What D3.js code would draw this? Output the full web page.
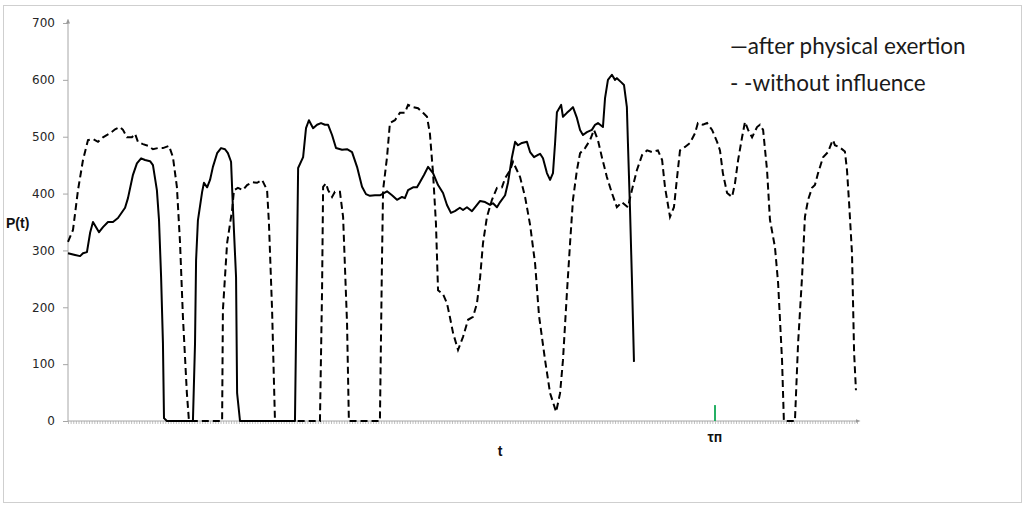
<!DOCTYPE html>
<html>
<head>
<meta charset="utf-8">
<script src="https://cdn.jsdelivr.net/npm/d3@7"></script>
<style>
  body { margin: 0; background: #fff; }
  svg { display: block; }
</style>
</head>
<body>
<div id="chart"></div>
<script>
// y ticks and time range
var yTicks = [0, 100, 200, 300, 400, 500, 600, 700];
var tCount = 300;
var tMark = 246;   // the green "τп" mark on the time axis

// [t, P(t)] after physical exertion
var exertion = [
  [0,295],[2.7,292],[4.6,290],[5.7,295],[7.2,297],[8.4,331],[9.5,350],[11.8,332],[13.3,341],
  [15.2,350],[17.1,350],[19,357],[21.7,375],[22.8,392],[24.7,433],[26.2,453],[27.8,462],
  [29.3,459],[31.2,457],[32.3,450],[33.8,406],[34.6,354],[35.4,253],[36.1,137],[36.5,5],[37.6,0],
  [47.5,0],[48.3,137],[48.7,283],[49.4,353],[51,403],[51.7,419],[52.9,411],[54,424],[55.1,447],
  [56.7,471],[58.2,480],[59.7,478],[60.8,471],[62,456],[62.7,376],[63.9,253],[64.3,49],[65.4,0],
  [86.3,0],[87.5,445],[89.4,464],[90.5,515],[91.6,529],[93.2,515],[94.7,521],[96.2,524],
  [97.7,521],[98.9,521],[100.4,503],[101.9,480],[104.2,477],[106.1,478],[108,473],[109.9,447],
  [111.8,412],[113.3,399],[114.8,396],[116.7,397],[118.6,397],[121.3,404],[123.2,397],[125.1,389],
  [127,394],[128.1,392],[129.3,406],[131.2,411],[132.7,411],[133.8,420],[135.4,433],[136.9,447],
  [138.8,436],[140.7,415],[142.6,401],[144.1,380],[145.6,366],[147.1,369],[149,375],[150.2,371],
  [151.7,376],[153.6,369],[155.5,380],[156.7,387],[158.6,385],[160.5,380],[161.6,383],[163.1,376],
  [164.3,385],[166.2,397],[167.3,419],[168.8,464],[170,491],[171.1,485],[172.6,489],[174.5,491],
  [175.7,473],[177.2,464],[178.7,468],[179.5,470],[180.6,462],[182.1,436],[183.3,424],[184.4,436],
  [185.2,489],[185.9,543],[187.5,556],[188.2,535],[189.7,542],[190.9,547],[192,552],[193.5,533],
  [194.7,512],[195.8,503],[197.3,508],[199.2,512],[200.4,521],[201.5,524],[203.4,517],[204.2,568],
  [205.3,600],[206.8,609],[208,600],[208.7,603],[210.3,596],[211.4,591],[212.5,552],[212.9,489],
  [213.7,371],[214.4,253],[215.2,104]
];

// [t, P(t)] without influence
var noInfluence = [
  [0,315],[1.9,336],[3.8,406],[5.7,459],[7.6,494],[9.5,496],[11.4,491],[13.3,499],[16,506],
  [17.9,513],[19.8,517],[20.9,512],[22.4,499],[24.3,499],[25.5,505],[26.6,491],[28.5,487],
  [30.4,484],[32.3,478],[34.2,480],[36.1,480],[38.4,484],[39.9,464],[41.4,412],[42.6,313],
  [43.7,183],[45.2,49],[46,0],[58.6,0],[58.9,195],[60.5,313],[62.4,371],[63.1,406],[64.6,410],
  [66.5,406],[68.1,415],[70,420],[71.9,419],[73.8,424],[75.7,406],[76.4,348],[77.6,195],[78.7,0],
  [95.8,0],[96.6,230],[97,412],[98.1,418],[98.9,406],[100.4,394],[101.5,403],[103.4,403],
  [104.6,359],[106.1,172],[106.8,0],[118.6,0],[119.4,288],[119.8,406],[121.3,464],[122.4,524],
  [124.3,529],[126.2,542],[128.1,542],[129.3,556],[131.2,552],[133.1,550],[135,542],[136.5,535],
  [137.6,506],[138.8,436],[139.9,348],[140.7,230],[142.6,223],[144.1,207],[145.2,183],[146.4,155],
  [148.3,125],[150.2,148],[152.1,178],[154,183],[155.5,207],[156.7,253],[157.8,313],[159.3,359],
  [161.2,389],[163.1,410],[165,411],[166.2,427],[168.1,441],[169.2,456],[170.7,441],[171.9,429],
  [173.8,394],[175.7,345],[177.6,277],[179.1,185],[181.4,107],[183.3,49],[185.6,16],[187.1,49],
  [188.2,107],[189.7,225],[190.9,313],[192,389],[193.5,441],[194.7,471],[196.6,480],[198.5,494],
  [200,512],[201.5,494],[203,464],[204.9,429],[206.8,401],[208.7,376],[210.6,385],[212.9,376],
  [214.4,406],[216.3,441],[218.3,468],[220.2,476],[222.1,473],[224.3,476],[225.9,459],[227,411],
  [228.9,359],[230.4,376],[231.6,429],[232.7,476],[234.6,482],[236.5,489],[238.4,506],[239.5,524],
  [241.4,521],[243,524],[244.9,512],[246.8,491],[247.9,476],[249,436],[250.6,401],[252.5,394],
  [253.6,418],[254.8,459],[256.3,499],[257.4,526],[258.6,512],[260.1,499],[262,517],[263.1,521],
  [264.3,512],[265.8,441],[266.9,354],[268.8,306],[270,243],[271.5,107],[272.2,0],[276.4,0],
  [277.6,137],[279.1,253],[280.2,359],[281.4,389],[282.9,410],[284,415],[285.2,436],[287.1,464],
  [289,473],[290.5,491],[290.9,494],[291.6,485],[293.5,481],[295.4,474],[296.2,441],[297,383],
  [298.1,295],[298.5,207],[298.9,120],[299.6,54]
];

var legendLabels = ["\u2014after physical exertion", "- -without influence"];

var width = 1024, height = 506;

var svg = d3.select("#chart").append("svg")
    .attr("width", width).attr("height", height);

// outer frame
svg.append("rect")
    .attr("x", 3.5).attr("y", 5.5)
    .attr("width", 1018).attr("height", 497)
    .attr("fill", "none").attr("stroke", "#cfcfcf");

var defs = svg.append("defs");
defs.append("marker")
    .attr("id", "arrow")
    .attr("viewBox", "0 0 10 10")
    .attr("refX", 5).attr("refY", 5)
    .attr("markerWidth", 5).attr("markerHeight", 5)
    .attr("orient", "auto")
  .append("path")
    .attr("d", "M0,1 L10,5 L0,9 z")
    .attr("fill", "#999");

var x = d3.scaleLinear().domain([0, tCount]).range([68, 857]);
var y = d3.scaleLinear().domain([0, 700]).range([421, 23]);

// y axis
var yAxis = svg.append("g")
    .attr("transform", "translate(68,0)")
    .call(d3.axisLeft(y).tickValues(yTicks).tickSize(5).tickPadding(8));
yAxis.select(".domain").remove();
yAxis.append("line")
    .attr("x1", 0).attr("x2", 0)
    .attr("y1", y(0)).attr("y2", y(700) - 2)
    .attr("stroke", "#a6a6a6")
    .attr("marker-end", "url(#arrow)");
yAxis.selectAll(".tick line").attr("stroke", "#a6a6a6");
yAxis.selectAll(".tick text")
    .attr("fill", "#262626")
    .style("font-family", "DejaVu Sans, sans-serif")
    .style("font-size", "12px");

// x axis with one small tick per time step
var xAxis = svg.append("g")
    .attr("transform", "translate(0," + y(0) + ")")
    .call(d3.axisBottom(x).tickValues(d3.range(0, tCount + 1)).tickSize(3).tickFormat(""));
xAxis.select(".domain").remove();
xAxis.selectAll(".tick line").attr("stroke", "#b0b0b0").attr("stroke-width", 0.8);
xAxis.append("line")
    .attr("x1", x(0)).attr("x2", x(tCount) + 1)
    .attr("y1", 0).attr("y2", 0)
    .attr("stroke", "#a6a6a6")
    .attr("marker-end", "url(#arrow)");

// green mark
svg.append("line")
    .attr("x1", x(tMark)).attr("x2", x(tMark))
    .attr("y1", y(0)).attr("y2", y(28))
    .attr("stroke", "#25b064").attr("stroke-width", 2);

var line = d3.line()
    .x(function(d){ return x(d[0]); })
    .y(function(d){ return y(d[1]); });

svg.append("path")
    .datum(noInfluence)
    .attr("d", line)
    .attr("fill", "none")
    .attr("stroke", "#000")
    .attr("stroke-width", 2)
    .attr("stroke-dasharray", "7,4");

svg.append("path")
    .datum(exertion)
    .attr("d", line)
    .attr("fill", "none")
    .attr("stroke", "#000")
    .attr("stroke-width", 2)
    .attr("stroke-linejoin", "round");

// axis titles
svg.append("text")
    .attr("x", 6).attr("y", 228)
    .style("font-family", "Liberation Sans, Arial, sans-serif")
    .style("font-weight", "bold").style("font-size", "14px")
    .attr("fill", "#111")
    .text("P(t)");

svg.append("text")
    .attr("x", 500).attr("y", 456)
    .attr("text-anchor", "middle")
    .style("font-family", "Liberation Sans, Arial, sans-serif")
    .style("font-weight", "bold").style("font-size", "14px")
    .attr("fill", "#111")
    .text("t");

svg.append("text")
    .attr("x", x(tMark)).attr("y", 442)
    .attr("text-anchor", "middle")
    .style("font-family", "Liberation Sans, Arial, sans-serif")
    .style("font-weight", "bold").style("font-size", "14px")
    .attr("fill", "#111")
    .text("τп");

// legend
svg.selectAll(".legend")
    .data(legendLabels)
    .enter().append("text")
    .attr("class", "legend")
    .attr("x", 730)
    .attr("y", function(d, i){ return 54 + i * 37; })
    .style("font-family", "Lato, sans-serif")
    .style("font-size", "22.5px")
    .attr("fill", "#1a1a1a")
    .text(function(d){ return d; });
</script>
</body>
</html>
